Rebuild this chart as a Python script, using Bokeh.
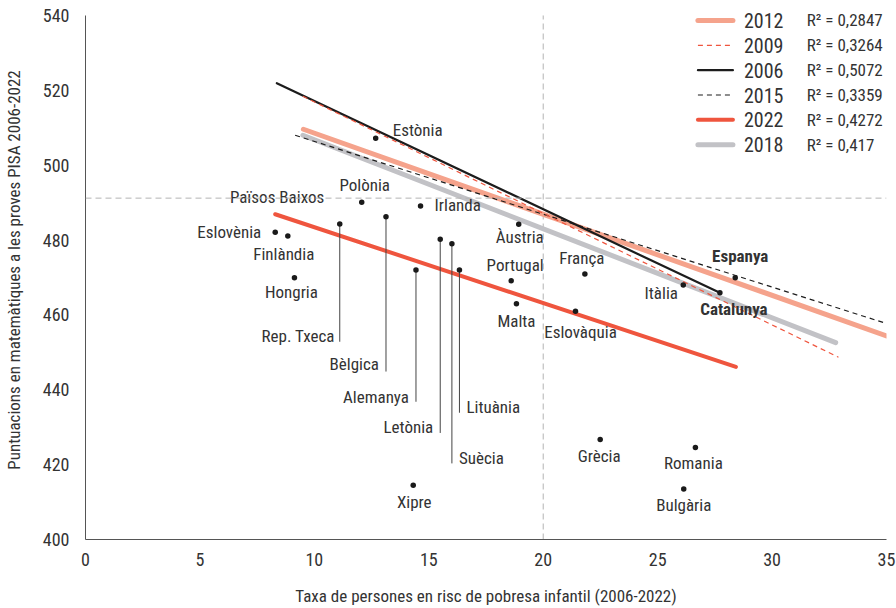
from bokeh.plotting import figure
from bokeh.models import Range1d, FixedTicker, Span, ColumnDataSource, LabelSet
from bokeh.core.properties import value
from bokeh.embed import file_html
from bokeh.resources import INLINE

# ---------------- data ----------------
countries = ["Estònia", "Polònia", "Irlanda", "Eslovènia", "Finlàndia", "Hongria",
             "Àustria", "Portugal", "Malta", "Eslovàquia", "França", "Itàlia",
             "Catalunya", "Espanya", "Grècia", "Romania", "Bulgària", "Xipre",
             "Rep. Txeca", "Bèlgica", "Alemanya", "Letònia", "Suècia", "Lituània"]
poverty = [12.68, 12.07, 14.64, 8.29, 8.84, 9.13,
           18.93, 18.60, 18.83, 21.41, 21.82, 26.12,
           27.72, 28.39, 22.49, 26.65, 26.14, 14.32,
           11.11, 13.13, 14.44, 15.50, 16.01, 16.34]
maths = [507.2, 490.1, 489.1, 482.1, 481.1, 469.9,
         484.2, 469.1, 463.0, 461.0, 470.9, 468.0,
         465.9, 469.9, 426.7, 424.6, 413.5, 414.5,
         484.3, 486.2, 472.0, 480.2, 479.0, 472.0]

# trend lines (legend order)
years = ["2012", "2009", "2006", "2015", "2022", "2018"]
r2_values = ["0,2847", "0,3264", "0,5072", "0,3359", "0,4272", "0,417"]
trend_x0 = [9.52, 9.5, 8.36, 9.16, 8.29, 9.5]
trend_y0 = [509.6, 518.4, 521.9, 508.0, 486.9, 508.0]
trend_x1 = [35.0, 32.9, 27.72, 35.0, 28.42, 32.78]
trend_y1 = [454.4, 448.7, 465.9, 457.7, 446.1, 452.6]

oecd_mean = 491.2
poverty_ref = 20

x_ticks = [0, 5, 10, 15, 20, 25, 30, 35]
y_ticks = [400, 420, 440, 460, 480, 500, 520, 540]

# ---------------- layout / style ----------------
FONT = '"Roboto Condensed", "Liberation Sans Narrow", "DejaVu Sans Condensed", sans-serif'
TXT = "#333333"
Y_MIN, Y_MAX, Y_TOP_PAD = 400, 540, 4   # headroom above the axis for the legend text

styles = {
    "2012": dict(color="#F5A38C", width=5, dash="solid"),
    "2009": dict(color="#EF553E", width=1.2, dash="5 4"),
    "2006": dict(color="#1c1c1c", width=2.2, dash="solid"),
    "2015": dict(color="#1c1c1c", width=1.2, dash="5 4"),
    "2022": dict(color="#EF553E", width=4, dash="solid"),
    "2018": dict(color="#C2C2C6", width=5, dash="solid"),
}
draw_order = ["2018", "2012", "2022", "2006", "2015", "2009"]

# label placement: (dx px, dy px, align)
label_pos = {
    "Estònia": (17, -8, "left"), "Polònia": (3, -17, "center"),
    "Irlanda": (14, -1, "left"), "Eslovènia": (-14, 0, "right"),
    "Finlàndia": (-4, 18, "center"), "Hongria": (-3, 14, "center"),
    "Àustria": (1, 13, "center"), "Portugal": (4, -16, "center"),
    "Malta": (0, 17, "center"), "Eslovàquia": (5, 21, "center"),
    "França": (-3, -16, "center"), "Itàlia": (-22, 8, "center"),
    "Catalunya": (14, 16, "center"), "Espanya": (5, -22, "center"),
    "Grècia": (-1, 16, "center"), "Romania": (-2, 16, "center"),
    "Bulgària": (0, 16, "center"), "Xipre": (1, 17, "center"),
    "Rep. Txeca": (-5, 112, "right"), "Bèlgica": (-7, 147, "right"),
    "Alemanya": (-7, 127, "right"), "Letònia": (-7, 188, "right"),
    "Suècia": (7, 214, "left"), "Lituània": (7, 137, "left"),
}
stem_len_px = {"Rep. Txeca": 118, "Bèlgica": 155, "Alemanya": 132,
               "Letònia": 194, "Suècia": 220, "Lituània": 143}
PX_PER_Y = 3.75
bold_set = {"Catalunya", "Espanya"}

p = figure(width=896, height=608, x_range=Range1d(0, 35),
           y_range=Range1d(Y_MIN, Y_MAX + Y_TOP_PAD),
           output_backend="svg", toolbar_location=None,
           min_border_left=83, min_border_right=10, min_border_top=0, min_border_bottom=68)
p.outline_line_color = None
p.grid.visible = False
p.background_fill_color = "white"

for ax, ticks in ((p.xaxis, x_ticks), (p.yaxis, y_ticks)):
    ax.ticker = FixedTicker(ticks=ticks)
    ax.axis_line_color = "#555555"
    ax.axis_line_width = 1
    ax.major_tick_line_color = None
    ax.minor_tick_line_color = None
    ax.major_label_text_font = FONT
    ax.major_label_text_font_size = "18px"
    ax.major_label_text_color = TXT
    ax.axis_label_text_font = FONT
    ax.axis_label_text_font_size = "17px"
    ax.axis_label_text_font_style = "normal"
    ax.axis_label_text_color = TXT
p.yaxis.bounds = (Y_MIN, Y_MAX)

p.xaxis.major_label_standoff = 7
p.xaxis.axis_label = "Taxa de persones en risc de pobresa infantil (2006-2022)"
p.xaxis.axis_label_standoff = 17
p.yaxis.major_label_standoff = 10
p.yaxis.axis_label = "Puntuacions en matemàtiques a les proves PISA 2006-2022"
p.yaxis.axis_label_standoff = 16

# reference dashed lines
p.add_layout(Span(location=oecd_mean, dimension="width", line_color="#b3b3b3",
                  line_dash="6 4", line_width=1))
p.segment(x0=[poverty_ref], y0=[Y_MIN], x1=[poverty_ref], y1=[Y_MAX],
          line_color="#b3b3b3", line_dash="6 4", line_width=1)

# trend lines
for yr in draw_order:
    i = years.index(yr)
    s = styles[yr]
    p.line([trend_x0[i], trend_x1[i]], [trend_y0[i], trend_y1[i]],
           line_color=s["color"], line_width=s["width"], line_dash=s["dash"],
           line_cap="round" if s["dash"] == "solid" else "butt")

# stems
sx, sy0, sy1 = [], [], []
for c, x, y in zip(countries, poverty, maths):
    if c in stem_len_px:
        sx.append(x); sy0.append(y); sy1.append(y - stem_len_px[c] / PX_PER_Y)
p.segment(x0=sx, y0=sy0, x1=sx, y1=sy1, line_color="#444444", line_width=1)

# dots
p.scatter(poverty, maths, size=5.5, fill_color="#1a1a1a", line_color=None)

# labels
for bold in (False, True):
    d = dict(x=[], y=[], t=[], dx=[], dy=[], al=[])
    for c, x, y in zip(countries, poverty, maths):
        if (c in bold_set) != bold:
            continue
        dx, dy, al = label_pos[c]
        d["x"].append(x); d["y"].append(y); d["t"].append(c)
        d["dx"].append(dx); d["dy"].append(dy); d["al"].append(al)
    src = ColumnDataSource(d)
    p.text(x="x", y="y", text="t", x_offset="dx", y_offset="dy", text_align="al",
           text_baseline="middle", source=src, text_font=value(FONT),
           text_font_size="17px", text_color=TXT,
           text_font_style="bold" if bold else "normal")

# Països Baixos label (no dot shown)
p.text(x=[8.37], y=[491.5], text=["Països Baixos"], text_align="center",
       text_baseline="middle", text_font=value(FONT), text_font_size="17px",
       text_color=TXT)

# manual legend (layout in data units)
leg_x0, leg_x1, leg_year_x, leg_r2_x = 26.76, 28.29, 28.77, 31.52
leg_top, leg_step = 538.67, 6.64
for i, yr in enumerate(years):
    s = styles[yr]
    yy = leg_top - i * leg_step
    p.line([leg_x0, leg_x1], [yy, yy], line_color=s["color"],
           line_width=s["width"], line_dash=s["dash"],
           line_cap="round" if s["dash"] == "solid" else "butt")
ly = [leg_top - i * leg_step for i in range(len(years))]
leg_src = ColumnDataSource(dict(xy=[leg_year_x] * len(years), xr=[leg_r2_x] * len(years),
                                y=ly, yr=years, r2=["R² = " + r for r in r2_values]))
p.add_layout(LabelSet(x="xy", y="y", text="yr", source=leg_src, text_baseline="middle",
                      text_font=value(FONT), text_font_size="20px", text_color=TXT))
p.add_layout(LabelSet(x="xr", y="y", text="r2", source=leg_src, text_baseline="middle",
                      text_font=value(FONT), text_font_size="17px", text_color=TXT))

open("out.html", "w").write(file_html(p, INLINE))
